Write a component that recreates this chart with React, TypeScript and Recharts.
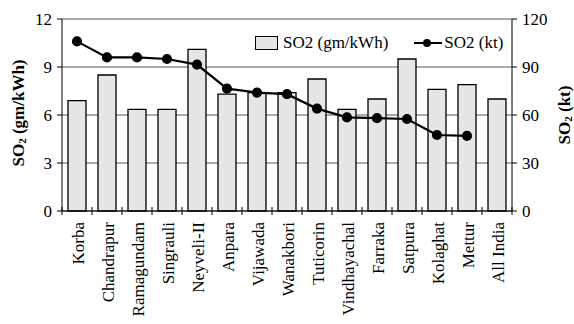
import { ComposedChart, Bar, Line, XAxis, YAxis, CartesianGrid, Label } from 'recharts';

const plants = [
  'Korba', 'Chandrapur', 'Ramagundam', 'Singrauli', 'Neyveli-II', 'Anpara', 'Vijawada', 'Wanakbori',
  'Tuticorin', 'Vindhayachal', 'Farraka', 'Satpura', 'Kolaghat', 'Mettur', 'All India',
];
const so2Intensity = [6.9, 8.5, 6.35, 6.35, 10.1, 7.3, 7.4, 7.4, 8.25, 6.35, 7.0, 9.5, 7.6, 7.9, 7.0];
const so2Kt: (number | null)[] = [106, 96, 96, 95, 91.5, 76.5, 74, 73, 64, 58.5, 58, 57.5, 47.5, 47, null];
const leftTicks = [0, 3, 6, 9, 12];
const rightTicks = [0, 30, 60, 90, 120];

const data = plants.map((name, i) => ({ name, intensity: so2Intensity[i], kt: so2Kt[i] }));

const W = 574;
const H = 324;
const AXIS_W = 62;
const FONT = 'Liberation Serif';
const HALF_BAND = (W - 2 * AXIS_W) / plants.length / 2;

const PlantTick = (props: any) => {
  const { x, y, payload, index } = props;
  const ly = y + 11;
  return (
    <g>
      {index === 0 && <line x1={x - HALF_BAND} x2={x - HALF_BAND} y1={y - 4} y2={y + 4} stroke="#000" />}
      <line x1={x + HALF_BAND} x2={x + HALF_BAND} y1={y - 4} y2={y + 4} stroke="#000" />
      <text
        x={x + 1}
        y={ly}
        transform={`rotate(-90, ${x + 1}, ${ly})`}
        textAnchor="end"
        dominantBaseline="central"
        style={{ fontSize: 17, fontFamily: FONT }}
        fill="#000"
      >
        {payload.value}
      </text>
    </g>
  );
};

const AxisTitle = (cx: number, cy: number, unit: string) => (
  <text
    x={cx}
    y={cy}
    transform={`rotate(-90, ${cx}, ${cy})`}
    textAnchor="middle"
    dominantBaseline="central"
    style={{ fontSize: 17, fontWeight: 'bold', fontFamily: FONT }}
    fill="#000"
  >
    SO<tspan style={{ fontSize: 11 }} dy={4}>2</tspan>
    <tspan dy={-4}>{` (${unit})`}</tspan>
  </text>
);

const LegendBox = () => (
  <div
    style={{
      position: 'absolute', top: 34, left: 255, display: 'flex', alignItems: 'center',
      fontFamily: FONT, fontSize: 17, color: '#000', whiteSpace: 'nowrap', lineHeight: '18px',
    }}
  >
    <span style={{ display: 'inline-block', width: 21, height: 12, background: '#e6e6e6', border: '1px solid #000', marginRight: 5 }} />
    <span>SO2 (gm/kWh)</span>
    <svg width={28} height={12} style={{ marginLeft: 26, marginRight: 2 }}>
      <line x1={0} x2={28} y1={6} y2={6} stroke="#000" strokeWidth={2} />
      <circle cx={13} cy={6} r={4} fill="#000" />
    </svg>
    <span>SO2 (kt)</span>
  </div>
);

export default function App() {
  return (
    <div style={{ position: 'absolute', left: 0, top: 0, width: W, height: H, background: '#fff', fontFamily: FONT }}>
      <ComposedChart width={W} height={H} data={data} margin={{ top: 19, right: 0, left: 0, bottom: 0 }} barCategoryGap="20%">
        <CartesianGrid yAxisId="left" vertical={false} stroke="#555" strokeWidth={1.2} />
        <XAxis
          dataKey="name"
          height={113}
          interval={0}
          tickSize={0}
          tickMargin={0}
          tickLine={false}
          axisLine={{ stroke: '#000' }}
          tick={<PlantTick />}
        />
        <YAxis
          yAxisId="left"
          domain={[0, 12]}
          ticks={leftTicks}
          width={AXIS_W}
          tickSize={5}
          tickMargin={5}
          axisLine={{ stroke: '#000' }}
          tickLine={{ stroke: '#000' }}
          tick={{ fill: '#000', fontSize: 17, fontFamily: FONT }}
        >
          <Label content={(p: any) => AxisTitle(18, p.viewBox.y + p.viewBox.height / 2 - 2, 'gm/kWh')} />
        </YAxis>
        <YAxis
          yAxisId="right"
          orientation="right"
          domain={[0, 120]}
          ticks={rightTicks}
          width={AXIS_W}
          tickSize={5}
          tickMargin={5}
          axisLine={{ stroke: '#000' }}
          tickLine={{ stroke: '#000' }}
          tick={{ fill: '#000', fontSize: 17, fontFamily: FONT }}
        >
          <Label content={(p: any) => AxisTitle(W - 10, p.viewBox.y + p.viewBox.height / 2, 'kt')} />
        </YAxis>
        <Bar yAxisId="left" dataKey="intensity" fill="#e6e6e6" stroke="#000" strokeWidth={1.3} isAnimationActive={false} />
        <Line
          yAxisId="right"
          dataKey="kt"
          stroke="#000"
          strokeWidth={2.2}
          dot={{ r: 4, fill: '#000', stroke: '#000' }}
          activeDot={false}
          connectNulls={false}
          isAnimationActive={false}
        />
      </ComposedChart>
      <LegendBox />
    </div>
  );
}
